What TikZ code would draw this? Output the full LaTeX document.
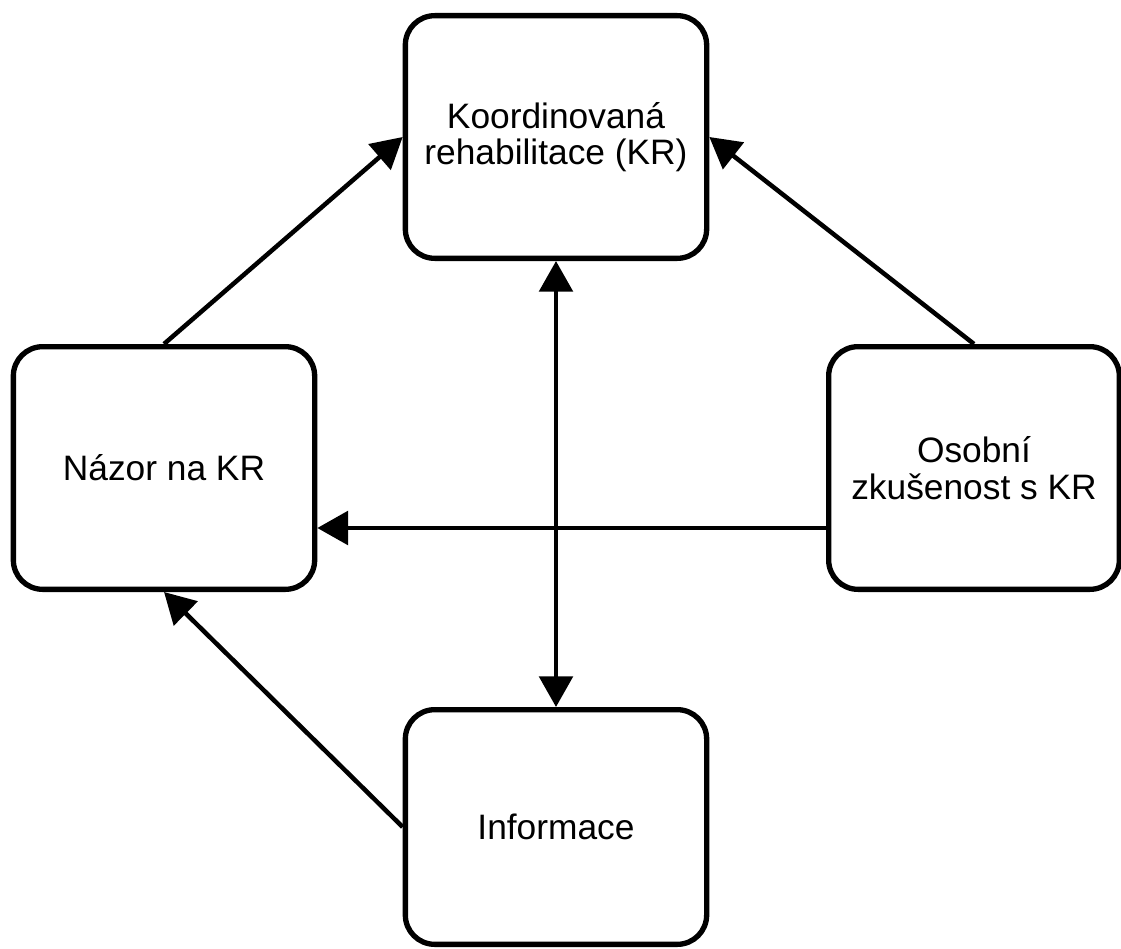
\documentclass[tikz,border=0pt]{standalone}
\usepackage{fontspec}
\setmainfont{Liberation Sans}
\usetikzlibrary{arrows.meta,positioning}

\begin{document}
\begin{tikzpicture}[x=0.75pt,y=-0.75pt,
    >={Triangle[length=23pt,width=25pt]},
    box/.style={draw,line width=4pt,rounded corners=22pt,align=center,
      inner sep=0pt,font=\fontsize{26.5}{27.5}\selectfont},
    link/.style={line width=3.4pt,->}]
    \fill[white] (0,0) rectangle (1121,949);
    \useasboundingbox (0,0) rectangle (1121,949);
    % boxes
    \node[box,minimum width=226pt,minimum height=182pt] (kr) at (556,137) {Koordinovaná\\rehabilitace (KR)};
    \node[box,minimum width=226pt,minimum height=182pt] (nazor) at (164,468) {Názor na KR};
    \node[box,minimum width=218pt,minimum height=182pt] (osobni) at (974,468) {Osobní\\zkušenost s KR};
    \node[box,minimum width=226pt,minimum height=176pt] (info) at (556,827) {Informace};
    % arrows
    \draw[link] (nazor.north) -- (kr.west);
    \draw[link] (osobni.north) -- (kr.east);
    \draw[link] (info.west) -- (nazor.south);
    \draw[line width=3.4pt,<->] (kr.south) -- (info.north);
    \coordinate (h) at ([yshift=-45pt]osobni.west);
    \draw[link] (h) -- (h -| nazor.east);
  \end{tikzpicture}
\end{document}
